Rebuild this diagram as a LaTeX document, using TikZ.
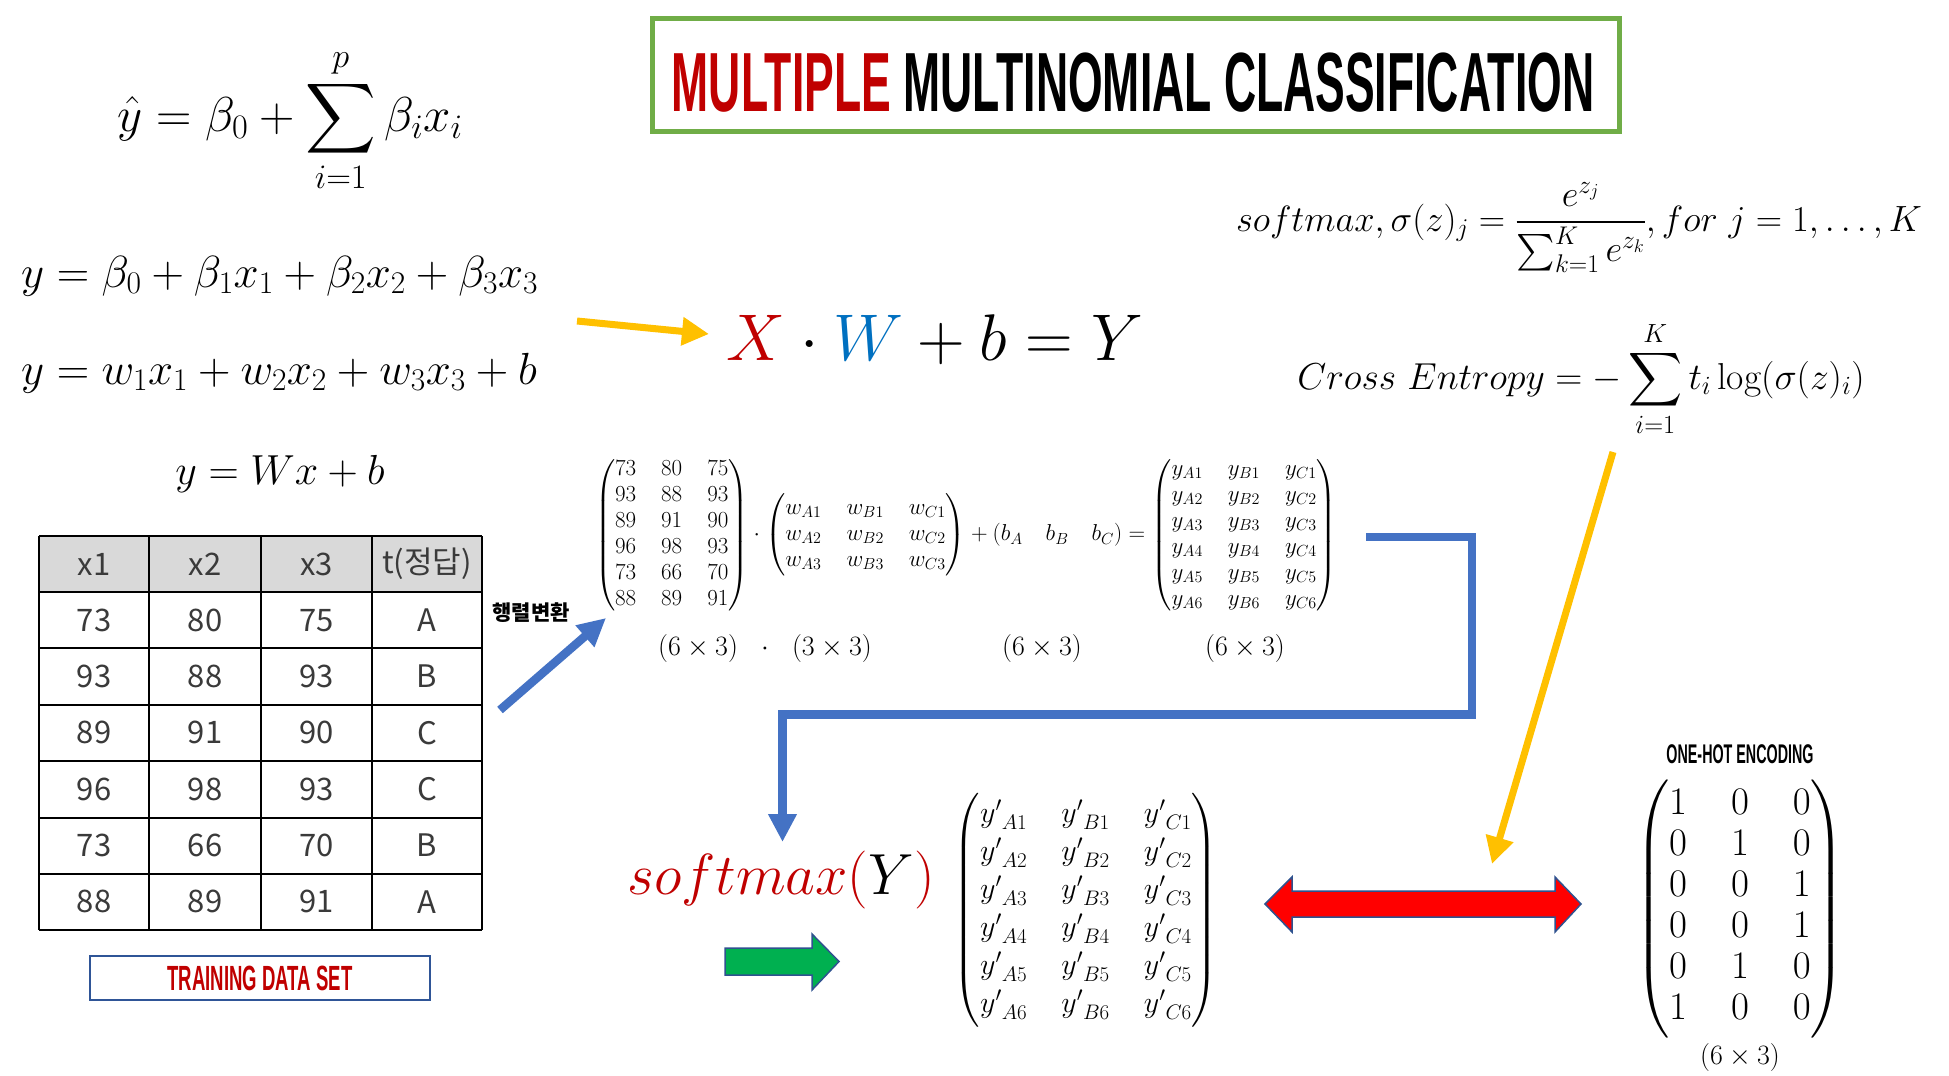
\RequirePackage{fix-cm}
\documentclass[tikz,border=0pt]{standalone}
\usepackage{amsmath}
\DeclareFontShape{OMX}{cmex}{m}{n}{<->cmex10}{}
\usepackage{fontspec}
\newfontfamily\krfont{Noto Sans CJK KR}
\newfontfamily\condfont{Liberation Sans}[FakeStretch=0.53]
\usetikzlibrary{arrows.meta}
\definecolor{tred}{HTML}{C00000}
\definecolor{tblue}{HTML}{0070C0}
\definecolor{tgreen}{HTML}{70AD47}
\definecolor{aorange}{HTML}{FFC000}
\definecolor{ablue}{HTML}{4472C4}
\definecolor{agreen}{HTML}{00B050}
\definecolor{edgeblue}{HTML}{2F528F}
\definecolor{boxblue}{HTML}{2F5597}
\definecolor{hdrgray}{HTML}{D9D9D9}
\definecolor{celltxt}{HTML}{3A3A3A}
\newcommand\fsz[2]{\fontsize{#1}{#2}\selectfont}
\tikzset{
  fml/.style={inner sep=0pt, font=\fsz{45}{52}},
  tcell/.style={inner sep=0pt, font=\krfont\fsz{31}{37}, text=celltxt},
  yarrow/.style={draw=aorange, line width=7pt, -{Triangle[length=27pt,width=27pt]}},
  barrow/.style={draw=ablue, line width=8.5pt, line join=miter, -{Triangle[length=28pt,width=27pt]}},
  gridline/.style={draw=black, line width=2pt},
  blockarrow/.style={draw=edgeblue, line width=1.5pt, line join=miter},
}
\begin{document}
\begin{tikzpicture}[x=1pt,y=-1pt]
\useasboundingbox (0,0) rectangle (1949,1076);
\fill[white] (0,0) rectangle (1949,1076);

% ---------- title ----------
\node[draw=tgreen, line width=5pt, minimum width=967pt, minimum height=113pt, inner sep=0pt] (titlebox) at (1136,75) {};
\node[inner sep=0pt, font=\condfont\bfseries\fsz{84}{90}] (titletext) at (1133,83) {{\color{tred}MULTIPLE} MULTINOMIAL CLASSIFICATION};

% ---------- left formulas ----------
\node[fml, font=\fsz{49}{56}, anchor=base] (f1) at (290,131) {$\displaystyle \hat{y} = \beta_0 + \sum_{i=1}^{p} \beta_i x_i$};
\node[fml, anchor=base west] (f2) at (21,287) {$y = \beta_0 + \beta_1 x_1 + \beta_2 x_2 + \beta_3 x_3$};
\node[fml, anchor=base west] (f3) at (21,384) {$y = w_1 x_1 + w_2 x_2 + w_3 x_3 + b$};
\node[fml, font=\fsz{42}{50}, anchor=base] (f4) at (280,484) {$y = Wx + b$};

% ---------- XW+b=Y ----------
\node[inner sep=0pt, font=\fsz{66}{72}, anchor=base] (xwby) at (935,360) {$\color{tred}X\color{black}\cdot{\color{tblue}W}+b=Y$};

% ---------- softmax / cross entropy ----------
\node[inner sep=0pt, font=\fsz{36.5}{44}, anchor=base] (smf) at (1579,231)
  {$softmax,\sigma(z)_j = \dfrac{e^{z_j}}{\textstyle\sum_{k=1}^{K} e^{z_k}}, for\ j = 1,\ldots,K$};
\node[inner sep=0pt, font=\fsz{37.5}{44}, anchor=base] (cef) at (1581,389)
  {$Cross\ Entropy = -\displaystyle\sum_{i=1}^{K} t_i \log(\sigma(z)_i)$};

% ---------- matrix equation ----------
\node[inner sep=0pt, font=\fsz{23}{26}] (mateq) at (966,535) {$\setlength\arraycolsep{12.5pt}
\begin{pmatrix}73&80&75\\93&88&93\\89&91&90\\96&98&93\\73&66&70\\88&89&91\end{pmatrix}
\cdot
\begin{pmatrix}w_{A1}&w_{B1}&w_{C1}\\w_{A2}&w_{B2}&w_{C2}\\w_{A3}&w_{B3}&w_{C3}\end{pmatrix}
+(b_A\quad b_B\quad b_C) =
\begin{pmatrix}y_{A1}&y_{B1}&y_{C1}\\y_{A2}&y_{B2}&y_{C2}\\y_{A3}&y_{B3}&y_{C3}\\y_{A4}&y_{B4}&y_{C4}\\y_{A5}&y_{B5}&y_{C5}\\y_{A6}&y_{B6}&y_{C6}\end{pmatrix}$};
\node[inner sep=0pt, font=\fsz{28}{32}] (dim1) at (765,648) {$(6\times 3)\ \ \cdot\ \ (3\times 3)$};
\node[inner sep=0pt, font=\fsz{28}{32}] (dim2) at (1042,648) {$(6\times 3)$};
\node[inner sep=0pt, font=\fsz{28}{32}] (dim3) at (1245,648) {$(6\times 3)$};

% ---------- table ----------
\fill[hdrgray] (39,536) rectangle (482,592);
\foreach \yy in {536,592,648,705,761,818,874,930} \draw[gridline] (39,\yy) -- (482,\yy);
\foreach \xx in {39,149,261,372,482} \draw[gridline] (\xx,536) -- (\xx,930);
\node[tcell] (h1) at (94,564) {x1};
\node[tcell] (h2) at (205,564) {x2};
\node[tcell] (h3) at (316.5,564) {x3};
\node[tcell] (h4) at (427,564) {t(정답)};
\foreach \r/\a/\b/\c/\d in {1/73/80/75/A,2/93/88/93/B,3/89/91/90/C,4/96/98/93/C,5/73/66/70/B,6/88/89/91/A}{
  \pgfmathsetmacro\yc{564+56.3*\r}
  \node[tcell] (r\r c1) at (94,\yc) {\a};
  \node[tcell] (r\r c2) at (205,\yc) {\b};
  \node[tcell] (r\r c3) at (316.5,\yc) {\c};
  \node[tcell] (r\r c4) at (427,\yc) {\d};
}
\node[draw=boxblue, line width=2.5pt, minimum width=340pt, minimum height=44pt, inner sep=0pt,
      text=tred, font=\condfont\bfseries\fsz{35}{40}] (tds) at (260,978) {TRAINING DATA SET};

% ---------- arrows ----------
\coordinate (ya1s) at (577,321);
\coordinate (ya1e) at (709,334);
\draw[yarrow] (ya1s) -- (ya1e);

\coordinate (bd1s) at (500,710);
\coordinate (bd1e) at (606,618);
\draw[barrow] (bd1s) -- (bd1e);
\node[inner sep=0pt, font=\krfont\bfseries\fsz{21}{24}] (hb) at (531,613) {행렬변환};

\coordinate (elbs) at (1366,537);
\coordinate (elbe) at (782.5,842);
\draw[barrow, line width=8.5pt] (elbs) -- (1472,537) -- (1472,714.5) -- (782.5,714.5) -- (elbe);

\coordinate (ya2s) at (1613,452);
\coordinate (ya2e) at (1492,864);
\draw[yarrow] (ya2s) -- (ya2e);

% ---------- softmax(Y) and result ----------
\node[inner sep=0pt, font=\fsz{58}{64}] (smy) at (781,880) {$\color{tred}softmax({\color{black}Y})$};
\draw[blockarrow, fill=agreen] (725,948) -- (812,948) -- (812,934) -- (839,961.5) -- (812,990) -- (812,975) -- (725,975) -- cycle;

\node[inner sep=0pt, font=\fsz{30}{38}] (yp) at (1086,910) {$\setlength\arraycolsep{17pt}
\begin{pmatrix}{y'}_{A1}&{y'}_{B1}&{y'}_{C1}\\{y'}_{A2}&{y'}_{B2}&{y'}_{C2}\\{y'}_{A3}&{y'}_{B3}&{y'}_{C3}\\{y'}_{A4}&{y'}_{B4}&{y'}_{C4}\\{y'}_{A5}&{y'}_{B5}&{y'}_{C5}\\{y'}_{A6}&{y'}_{B6}&{y'}_{C6}\end{pmatrix}$};

\draw[blockarrow, fill=red] (1265,904) -- (1292,877) -- (1292,891) -- (1555,891) -- (1555,877) -- (1581,904) -- (1555,932) -- (1555,917) -- (1292,917) -- (1292,932) -- cycle;

\node[inner sep=0pt, font=\condfont\bfseries\fsz{27}{30}] (ohl) at (1740,754) {ONE-HOT ENCODING};
\node[inner sep=0pt, font=\fsz{39}{41}] (oh) at (1740,909) {$\setlength\arraycolsep{22pt}
\begin{pmatrix}1&0&0\\0&1&0\\0&0&1\\0&0&1\\0&1&0\\1&0&0\end{pmatrix}$};
\node[inner sep=0pt, font=\fsz{28}{32}] (dim4) at (1740,1057) {$(6\times 3)$};
\end{tikzpicture}
\end{document}
